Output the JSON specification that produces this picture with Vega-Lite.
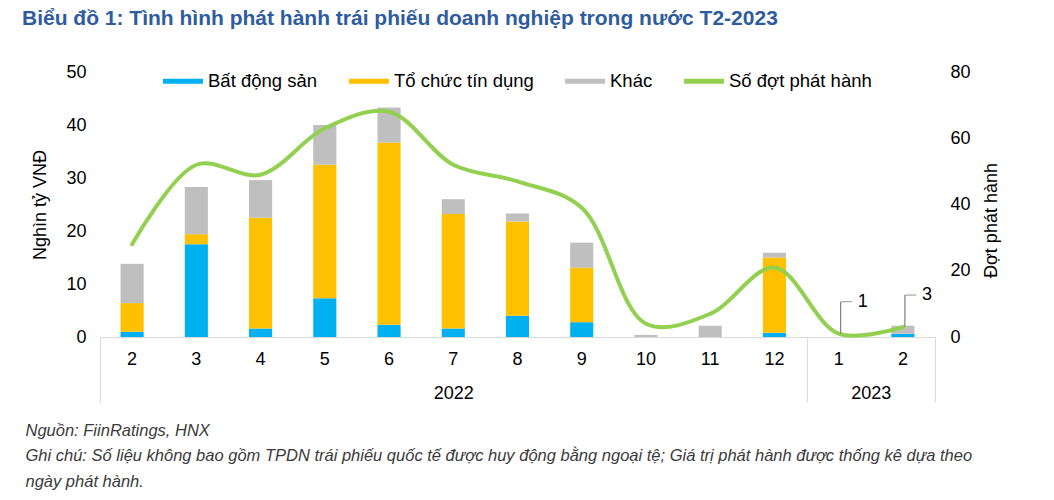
{
  "$schema": "https://vega.github.io/schema/vega-lite/v6.json",
  "width": 835,
  "height": 265,
  "autosize": "none",
  "padding": {"left": 100, "top": 72, "right": 119, "bottom": 163},
  "background": "white",
  "config": {
    "font": "Liberation Sans",
    "view": {"stroke": null},
    "axis": {"grid": false, "labelFont": "Liberation Sans", "titleFont": "Liberation Sans", "labelColor": "#000000", "titleColor": "#000000", "titleFontWeight": "normal"}
  },
  "title": {
    "text": "Biểu đồ 1: Tình hình phát hành trái phiếu doanh nghiệp trong nước T2-2023",
    "anchor": "start",
    "frame": "group",
    "dx": -78,
    "fontSize": 21,
    "fontWeight": "bold",
    "color": "#2E5C9E",
    "font": "Liberation Sans",
    "offset": 32
  },
  "datasets": {
    "m": [
      {"key": "2022-02", "Bất động sản": 1.0, "Tổ chức tín dụng": 5.4, "Khác": 7.4, "count": 28},
      {"key": "2022-03", "Bất động sản": 17.5, "Tổ chức tín dụng": 1.9, "Khác": 8.9, "count": 52},
      {"key": "2022-04", "Bất động sản": 1.6, "Tổ chức tín dụng": 20.9, "Khác": 7.1, "count": 49},
      {"key": "2022-05", "Bất động sản": 7.3, "Tổ chức tín dụng": 25.2, "Khác": 7.5, "count": 63},
      {"key": "2022-06", "Bất động sản": 2.3, "Tổ chức tín dụng": 34.4, "Khác": 6.6, "count": 68},
      {"key": "2022-07", "Bất động sản": 1.6, "Tổ chức tín dụng": 21.6, "Khác": 2.8, "count": 52},
      {"key": "2022-08", "Bất động sản": 4.0, "Tổ chức tín dụng": 17.8, "Khác": 1.5, "count": 47},
      {"key": "2022-09", "Bất động sản": 2.8, "Tổ chức tín dụng": 10.3, "Khác": 4.7, "count": 39},
      {"key": "2022-10", "Bất động sản": 0, "Tổ chức tín dụng": 0, "Khác": 0.4, "count": 4},
      {"key": "2022-11", "Bất động sản": 0, "Tổ chức tín dụng": 0, "Khác": 2.1, "count": 7},
      {"key": "2022-12", "Bất động sản": 0.8, "Tổ chức tín dụng": 14.2, "Khác": 0.9, "count": 21},
      {"key": "2023-01", "Bất động sản": 0, "Tổ chức tín dụng": 0, "Khác": 0, "count": 1},
      {"key": "2023-02", "Bất động sản": 0.6, "Tổ chức tín dụng": 0, "Khác": 1.5, "count": 3}
    ],
    "years": [
      {"year": "2022", "start": 0, "end": 11},
      {"year": "2023", "start": 11, "end": 13}
    ]
  },
  "layer": [
    {
      "data": {"name": "m"},
      "layer": [
        {
          "transform": [
            {"fold": ["Bất động sản", "Tổ chức tín dụng", "Khác"], "as": ["type", "value"]},
            {"calculate": "indexof(['Bất động sản', 'Tổ chức tín dụng', 'Khác'], datum.type)", "as": "stackOrder"}
          ],
          "mark": {"type": "bar"},
          "encoding": {
            "x": {
              "field": "key", "type": "ordinal",
              "scale": {"paddingInner": 0.64, "paddingOuter": 0.32},
              "axis": {"title": null, "orient": "bottom", "labelAngle": 0, "ticks": false, "domainColor": "#D9D9D9", "domainWidth": 1, "labelPadding": 13, "labelFontSize": 18, "labelExpr": "toNumber(substring(datum.label, 5))"}
            },
            "y": {
              "field": "value", "type": "quantitative", "stack": "zero",
              "scale": {"domain": [0, 50], "nice": false},
              "axis": {"title": "Nghìn tỷ VNĐ", "values": [0, 10, 20, 30, 40, 50], "domain": false, "ticks": false, "labelPadding": 14, "labelFontSize": 18, "titleFontSize": 18, "titlePadding": 16}
            },
            "color": {
              "field": "type", "type": "nominal",
              "scale": {"domain": ["Bất động sản", "Tổ chức tín dụng", "Khác", "Số đợt phát hành"], "range": ["#00B0F0", "#FFC000", "#BFBFBF", "#92D050"]},
              "legend": {
                "orient": "none", "legendX": 63, "legendY": -11, "direction": "horizontal", "title": null,
                "labelFontSize": 18.5, "labelFont": "Liberation Sans", "labelColor": "#000000",
                "symbolType": "M-1,-0.12H1V0.12H-1Z",
                "symbolSize": 1600, "symbolStrokeWidth": 0, "columnPadding": 31, "labelOffset": 5
              }
            },
            "order": {"field": "stackOrder", "type": "quantitative", "sort": "ascending"}
          }
        },
        {
          "layer": [
            {
              "mark": {"type": "line", "interpolate": "catmull-rom", "strokeWidth": 4, "strokeCap": "round"},
              "encoding": {
                "x": {"field": "key", "type": "ordinal"},
                "y": {
                  "field": "count", "type": "quantitative",
                  "scale": {"domain": [0, 80], "nice": false},
                  "axis": {"orient": "right", "title": "Đợt phát hành", "values": [0, 20, 40, 60, 80], "domain": false, "ticks": false, "labelPadding": 15, "labelFontSize": 18, "titleFontSize": 18, "titleAngle": 270, "titleBaseline": "top", "titleAlign": "center", "titleY": 148, "titlePadding": 12}
                },
                "color": {"datum": "Số đợt phát hành", "type": "nominal"}
              }
            },
            {
              "transform": [{"filter": {"field": "key", "oneOf": ["2023-01", "2023-02"]}}],
              "mark": {"type": "rule", "color": "#808080", "strokeWidth": 1.2, "y2Offset": -32, "xOffset": 2},
              "encoding": {
                "x": {"field": "key", "type": "ordinal"},
                "y": {"field": "count", "type": "quantitative"},
                "y2": {"field": "count"}
              }
            },
            {
              "transform": [{"filter": {"field": "key", "oneOf": ["2023-01", "2023-02"]}}],
              "mark": {"type": "tick", "color": "#808080", "thickness": 1.2, "size": 11, "xOffset": 8, "yOffset": -32, "orient": "horizontal"},
              "encoding": {
                "x": {"field": "key", "type": "ordinal"},
                "y": {"field": "count", "type": "quantitative"}
              }
            },
            {
              "transform": [{"filter": {"field": "key", "oneOf": ["2023-01", "2023-02"]}}],
              "mark": {"type": "text", "align": "left", "baseline": "middle", "dx": 19, "dy": -32, "fontSize": 18, "color": "#000000", "font": "Liberation Sans"},
              "encoding": {
                "x": {"field": "key", "type": "ordinal"},
                "y": {"field": "count", "type": "quantitative"},
                "text": {"field": "count", "type": "quantitative"}
              }
            }
          ]
        }
      ],
      "resolve": {"scale": {"y": "independent"}}
    },
    {
      "data": {"name": "years"},
      "mark": {"type": "rect", "opacity": 0},
      "encoding": {
        "x": {
          "field": "start", "type": "quantitative",
          "scale": {"domain": [0, 13], "nice": false, "zero": false},
          "axis": {
            "orient": "bottom",
            "values": [0, 11, 13],
            "labels": false,
            "domain": false,
            "tickSize": 65,
            "tickColor": "#D9D9D9",
            "tickWidth": 1,
            "title": null
          }
        },
        "x2": {"field": "end"}
      }
    },
    {
      "data": {"name": "years"},
      "mark": {"type": "rect", "opacity": 0},
      "encoding": {
        "x": {
          "field": "start", "type": "quantitative",
          "scale": {"domain": [0, 13], "nice": false, "zero": false},
          "axis": {
            "orient": "bottom",
            "values": [5.5, 12],
            "labelExpr": "datum.value == 5.5 ? '2022' : '2023'",
            "domain": false,
            "ticks": false,
            "labelPadding": 47,
            "labelFontSize": 18,
            "labelFlush": false,
            "labelOverlap": false,
            "title": ["Nguồn: FiinRatings, HNX", "Ghi chú: Số liệu không bao gồm TPDN trái phiếu quốc tế được huy động bằng ngoại tệ; Giá trị phát hành được thống kê dựa theo", "ngày phát hành."],
            "titleAnchor": "start",
            "titleAlign": "left",
            "titleBaseline": "top",
            "titleX": -75,
            "titleY": 85,
            "titleFontStyle": "italic",
            "titleFontSize": 16.5,
            "titleColor": "#3A3A3A",
            "titleLineHeight": 25.5
          }
        },
        "x2": {"field": "end"}
      }
    }
  ],
  "resolve": {"scale": {"x": "independent", "y": "independent"}}
}
